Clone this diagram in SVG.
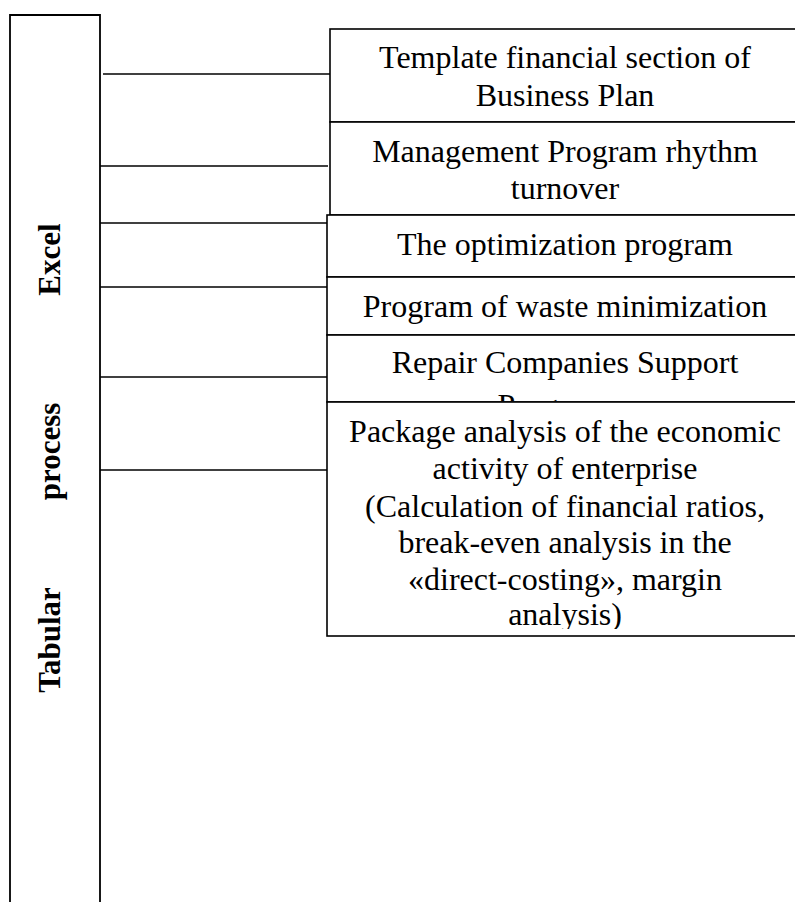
<svg xmlns="http://www.w3.org/2000/svg" width="795" height="902" viewBox="0 0 795 902">
<style>
.box{fill:#fff;stroke:#000;stroke-width:1.6}
.ln{stroke:#000;stroke-width:1.6;fill:none}
.t{font-family:"Liberation Serif","Times New Roman",serif;font-size:32px;fill:#000;text-anchor:middle}
.v{font-family:"Liberation Serif","Times New Roman",serif;font-size:31px;font-weight:bold;fill:#000;text-anchor:middle}
</style>
<defs>
<clipPath id="c5"><rect x="327" y="335" width="470" height="66"/></clipPath>
<clipPath id="c6"><rect x="327" y="402" width="470" height="227"/></clipPath>
</defs>
<rect width="795" height="902" fill="#fff"/>
<g id="tabular-excel">
<path class="ln" d="M10,910 V15 H100 V910" style="stroke-width:1.8"/>
<text class="v" transform="translate(60,259.5) rotate(-90)">Excel</text>
<text class="v" transform="translate(60,451.5) rotate(-90)">process</text>
<text class="v" transform="translate(60,640) rotate(-90)">Tabular</text>
</g>
<g id="connectors">
<line class="ln" x1="103" y1="74" x2="330" y2="74"/>
<line class="ln" x1="100" y1="166" x2="328" y2="166"/>
<line class="ln" x1="100" y1="223" x2="327" y2="223"/>
<line class="ln" x1="100" y1="287" x2="327" y2="287"/>
<line class="ln" x1="100" y1="377" x2="327" y2="377"/>
<line class="ln" x1="100" y1="470" x2="327" y2="470"/>
</g>
<g id="n1">
<rect class="box" x="330" y="29" width="480" height="93"/>
<text class="t" x="565" y="68">Template financial section of</text>
<text class="t" x="565" y="106">Business Plan</text>
</g>
<g id="n2">
<rect class="box" x="330" y="122" width="480" height="93"/>
<text class="t" x="565" y="162">Management Program rhythm</text>
<text class="t" x="565" y="199">turnover</text>
</g>
<g id="n3">
<rect class="box" x="327" y="215" width="483" height="62"/>
<text class="t" x="565" y="255">The optimization program</text>
</g>
<g id="n4">
<rect class="box" x="327" y="277" width="483" height="58"/>
<text class="t" x="565" y="317">Program of waste minimization</text>
</g>
<g id="n5">
<rect class="box" x="327" y="335" width="483" height="67"/>
<text class="t" x="565" y="373">Repair Companies Support</text>
<text class="t" x="565" y="416" clip-path="url(#c5)">Programm</text>
</g>
<g id="n6">
<rect class="box" x="327" y="402" width="483" height="234"/>
<g clip-path="url(#c6)">
<text class="t" x="565" y="442">Package analysis of the economic</text>
<text class="t" x="565" y="479">activity of enterprise</text>
<text class="t" x="565" y="517">(Calculation of financial ratios,</text>
<text class="t" x="565" y="553">break-even analysis in the</text>
<text class="t" x="565" y="590">«direct-costing», margin</text>
<text class="t" x="565" y="625">analysis)</text>
</g>
</g>
</svg>
